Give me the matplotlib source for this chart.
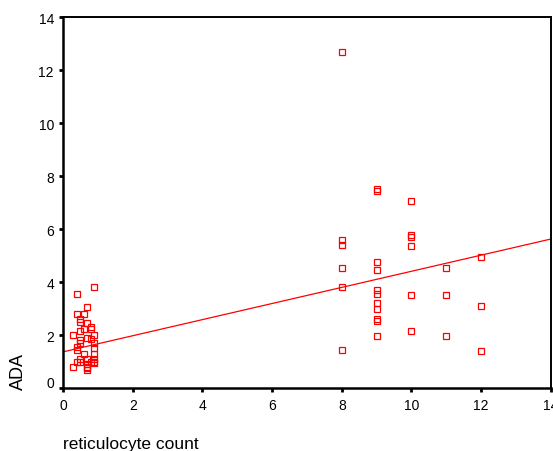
import numpy as np
import matplotlib.pyplot as plt
import matplotlib.transforms as mtransforms

plt.rcParams['font.family'] = ['Liberation Sans', 'DejaVu Sans']

# --- data --------------------------------------------------------
retic = [0.3, 0.3,
         0.4, 0.4, 0.4, 0.4, 0.4,
         0.5, 0.5, 0.5, 0.5, 0.5, 0.5, 0.5,
         0.6, 0.6, 0.6,
         0.7, 0.7, 0.7, 0.7, 0.7, 0.7, 0.7, 0.7,
         0.8, 0.8, 0.8, 0.8,
         0.9, 0.9, 0.9, 0.9, 0.9, 0.9, 0.9, 0.9,
         8, 8, 8, 8, 8, 8,
         9, 9, 9, 9, 9, 9, 9, 9, 9, 9, 9,
         10, 10, 10, 10, 10, 10,
         11, 11, 11,
         12, 12, 12]
ada = [2.0, 0.8,
       3.55, 2.8, 1.55, 1.45, 1.0,
       2.6, 2.5, 2.15, 1.8, 1.7, 1.1, 1.0,
       2.8, 2.25, 1.3,
       3.05, 2.45, 1.9, 1.1, 0.9, 0.8, 0.75, 0.7,
       2.3, 2.25, 1.85, 1.0,
       3.8, 2.0, 1.7, 1.5, 1.3, 1.1, 1.0, 0.95,
       12.7, 5.6, 5.4, 4.55, 3.8, 1.45,
       7.5, 7.45, 4.75, 4.45, 3.7, 3.55, 3.2, 3.0, 2.6, 2.55, 1.95,
       7.05, 5.77, 5.72, 5.35, 3.5, 2.15,
       4.55, 3.5, 1.95,
       4.93, 3.1, 1.4]

# fitted line as drawn in the reference
fit_intercept = 1.37
fit_slope = 0.304

xticks = [0, 2, 4, 6, 8, 10, 12, 14]
yticks = [0, 2, 4, 6, 8, 10, 12, 14]

fig = plt.figure(figsize=(5.53, 4.52), dpi=100)
ax = fig.add_axes([0.114, 0.139, 0.882, 0.821])

ax.plot(retic, ada, linestyle='none', marker='s', markersize=4.3,
        markerfacecolor='none', markeredgecolor='red', markeredgewidth=0.9)

xl = np.array([0, 14])
ax.plot(xl, fit_intercept + fit_slope * xl, color='red', linewidth=0.9)

ax.set_xlim(0, 14)
ax.set_ylim(0, 14)
ax.set_xticks(xticks)
ax.set_yticks(yticks)
ax.tick_params(direction='out', length=3, width=2, labelsize=10)
ax.tick_params(axis='y', pad=3.6)
ax.tick_params(axis='x', pad=4)

for side in ['left', 'bottom']:
    ax.spines[side].set_linewidth(1.8)
for side in ['top', 'right']:
    ax.spines[side].set_linewidth(1.4)

# lift the y "0" label a little, like the reference
lab0 = ax.get_yticklabels()[0]
lab0.set_transform(lab0.get_transform() + mtransforms.ScaledTranslation(0, 7 / 100, fig.dpi_scale_trans))

fig.text(18.5 / 553, 1 - 372 / 452, 'ADA', rotation=90, ha='center', va='center', fontsize=13)
fig.text(63 / 553, 1 - 449 / 452, 'reticulocyte count', ha='left', va='baseline', fontsize=12.5)

fig.savefig('out.png', dpi=100)
